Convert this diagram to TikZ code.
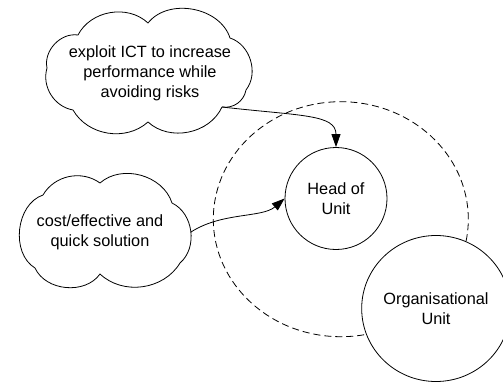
\documentclass[tikz,border=0pt]{standalone}
\usepackage{fontspec}
\setmainfont{Liberation Sans}
\usetikzlibrary{shapes.geometric,arrows.meta}
\begin{document}
\begin{tikzpicture}[x=1pt,y=-1pt,
  every node/.style={font=\fontsize{16.3}{20}\selectfont, align=center},
  cloudline/.style={draw, fill=white, line width=0.8pt, line join=round},
  label/.style={inner sep=0pt},
  circbox/.style={ellipse, draw, fill=white, line width=0.8pt, inner sep=0pt},
  zone/.style={ellipse, draw, dash pattern=on 7pt off 4pt, line width=0.8pt, inner sep=0pt},
  link/.style={-{Triangle[length=13pt,width=9pt]}, line width=0.8pt}]
\useasboundingbox[fill=white] (0,0) rectangle (503,383);
\node[zone, minimum width=255pt, minimum height=235pt] (zone) at (340.8,219.2) {};
\node[circbox, minimum width=136pt, minimum height=146pt] (org) at (436,308.5) {Organisational\\Unit};
\node[circbox, minimum width=102pt, minimum height=102pt] (head) at (336,198.5) {Head of\\Unit};
% cloud 1
\path[cloudline] (78,35) to[bend left=53] (148,23) to[bend left=62] (230,38)
  to[bend left=55] (246,90) to[bend left=44] (222,107) to[bend left=54] (148,122)
  to[bend left=51] (73,110) to[bend left=48] (47,68) to[bend left=55] (78,35) -- cycle;
\node[label] (c1) at (150,73) {exploit ICT to increase\\performance while\\avoiding risks};
\coordinate (c1out) at (222,107);
% cloud 2
\path[cloudline] (43,195) to[bend left=48] (100,183) to[bend left=57] (172,203)
  to[bend left=57] (180,263) to[bend left=51] (100,274) to[bend left=60] (35,268)
  to[bend left=65] (43,195) -- cycle;
\node[label] (c2) at (100,232) {cost/effective and\\quick solution};
\coordinate (c2out) at (191,232);
\draw[link] (c1out) .. controls (300,116) and (336,114) .. (head.north);
\draw[link] (c2out) .. controls (222,212) and (262,218) .. (head.west);
\end{tikzpicture}
\end{document}
